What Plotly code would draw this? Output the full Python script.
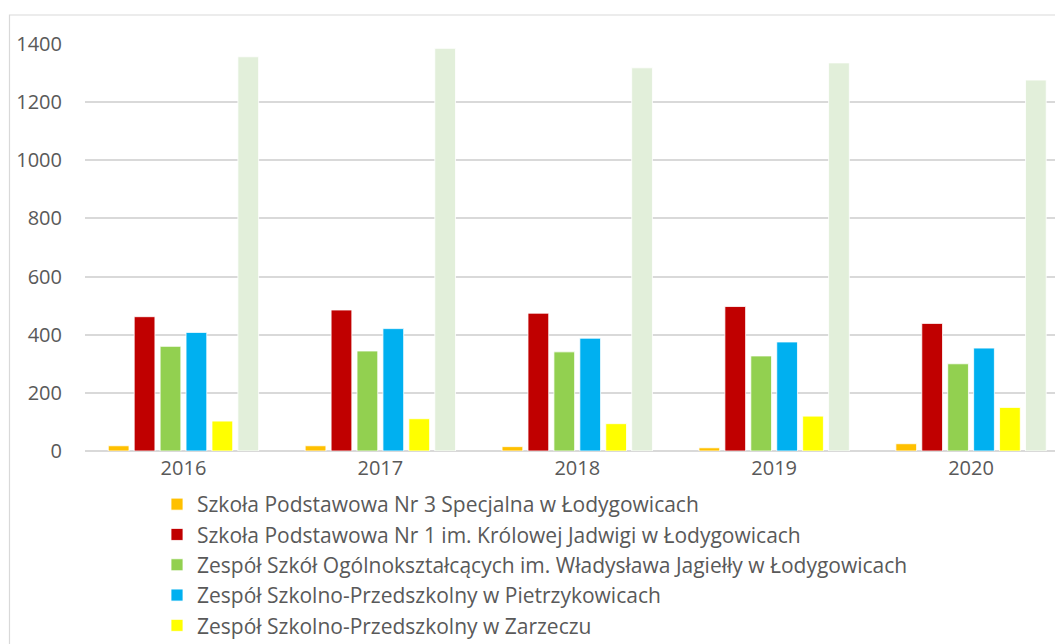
import plotly.graph_objects as go

years = ["2016", "2017", "2018", "2019", "2020"]
names = [
    "Szkoła Podstawowa Nr 3 Specjalna w Łodygowicach",
    "Szkoła Podstawowa Nr 1 im. Królowej Jadwigi w Łodygowicach",
    "Zespół Szkół Ogólnokształcących im. Władysława Jagiełły w Łodygowicach",
    "Zespół Szkolno-Przedszkolny w Pietrzykowicach",
    "Zespół Szkolno-Przedszkolny w Zarzeczu",
    "Razem",
]
sp3 = [18, 18, 15, 11, 25]
sp1 = [462, 485, 474, 497, 439]
zso = [360, 344, 341, 327, 300]
zsp_pie = [408, 421, 388, 375, 354]
zsp_zar = [103, 111, 94, 120, 150]
total = [1356, 1385, 1318, 1335, 1276]
series = [sp3, sp1, zso, zsp_pie, zsp_zar, total]
colors = ["#FFC000", "#C00000", "#92D050", "#00B0F0", "#FFFF00", "#E2EFDA"]
show = [True, True, True, True, True, False]

fig = go.Figure()
for i, (n, v, c, s) in enumerate(zip(names, series, colors, show)):
    fig.add_trace(go.Bar(
        x=years, y=v, name=n, marker=dict(color=c, line=dict(color="white", width=0.8)),
        showlegend=s, legendgroup=f"g{i}",
    ))

L, R = 85, 1055
plot_w = R - L
top, bot = 44, 451
plot_h = bot - top

fig.update_layout(
    width=1055, height=644,
    margin=dict(l=L, r=1055 - R, t=top, b=644 - bot, autoexpand=False),
    barmode="group", bargap=0.21, bargroupgap=0.2,
    plot_bgcolor="white", paper_bgcolor="white",
    font=dict(family="Open Sans", size=20, color="#595959"),
    showlegend=True,
    legend=dict(
        orientation="v", x=(157 - L) / plot_w, xanchor="left",
        y=(bot - 484) / plot_h, yanchor="top",
        font=dict(size=21, color="#595959"), tracegroupgap=0,
        itemwidth=30, bgcolor="rgba(0,0,0,0)",
    ),
    xaxis=dict(
        range=[-0.5, 4.5 - (1069.5 - R) / 197.0],
        showgrid=False, showline=False, ticks="", ticklabelstandoff=3,
    ),
    yaxis=dict(
        range=[0, 1400], dtick=200, showgrid=True, gridcolor="#D9D9D9", gridwidth=1.5,
        zeroline=True, zerolinecolor="#D9D9D9", zerolinewidth=1.5,
        showline=False, ticks="", ticklabelstandoff=22,
    ),
    shapes=[dict(
        type="rect", xref="paper", yref="paper",
        x0=(9.5 - L) / plot_w, x1=1.2, y0=-0.8, y1=(bot - 15) / plot_h,
        line=dict(color="#D9D9D9", width=1.2), layer="below",
    )],
)

fig.write_html(
    "out.html",
    config={"displayModeBar": False},
    post_script="document.body.style.margin='0';document.body.style.overflow='hidden';",
)
